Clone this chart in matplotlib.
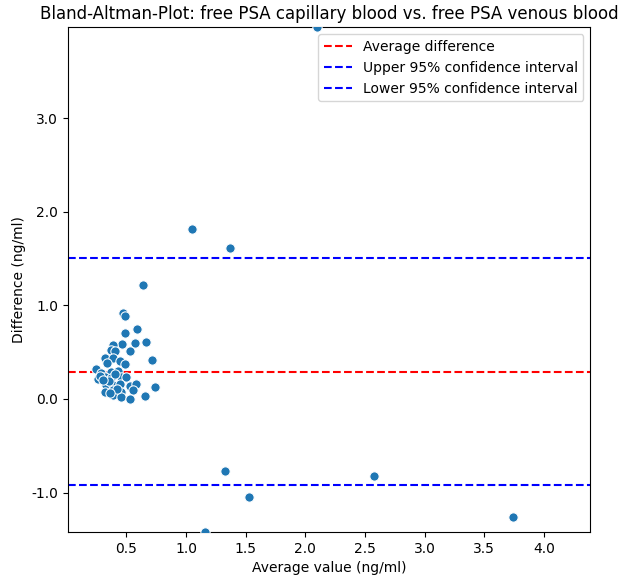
import matplotlib
matplotlib.use("Agg")
import matplotlib.pyplot as plt
from matplotlib.ticker import MultipleLocator, FormatStrFormatter
import numpy as np

# moyenne des deux mesures (ng/ml) et difference capillaire - veineux (ng/ml)
avg_value = [2.10, 1.046, 1.365, 0.635, 0.469, 0.490, 0.590, 0.484, 0.666, 0.573,
             0.464, 0.391, 0.526, 0.374, 0.408, 0.716, 0.324, 0.385, 0.442, 0.338,
             0.484, 0.246, 0.288, 0.372, 0.427, 0.259, 0.316, 0.372, 0.456, 0.498,
             0.330, 0.385, 0.442, 0.526, 0.576, 0.736, 0.316, 0.385, 0.456, 0.553,
             0.385, 0.456, 0.531, 0.652, 0.28, 0.35, 0.40, 0.42, 0.36, 0.30,
             1.33, 1.53, 1.16, 2.58, 3.74]
difference = [3.97, 1.82, 1.61, 1.22, 0.916, 0.887, 0.745, 0.702, 0.612, 0.595,
              0.588, 0.577, 0.513, 0.524, 0.513, 0.417, 0.435, 0.441, 0.406, 0.381,
              0.374, 0.317, 0.275, 0.292, 0.299, 0.210, 0.232, 0.221, 0.232, 0.232,
              0.150, 0.150, 0.157, 0.139, 0.157, 0.131, 0.078, 0.096, 0.078, 0.096,
              0.043, 0.025, -0.003, 0.032, 0.24, 0.19, 0.27, 0.11, 0.06, 0.20,
              -0.77, -1.05, -1.42, -0.82, -1.26]

mean_diff = 0.29
upper_ci = 1.51
lower_ci = -0.92

fig = plt.figure(figsize=(6.24, 5.8), dpi=100)
ax = fig.add_axes([0.109, 0.083, 0.837, 0.870])

ax.scatter(avg_value, difference, s=45, color="#1f77b4", edgecolor="white", linewidth=0.75, zorder=3)
ax.axhline(mean_diff, color="red", linestyle="--", linewidth=1.5, label="Average difference")
ax.axhline(upper_ci, color="blue", linestyle="--", linewidth=1.5, label="Upper 95% confidence interval")
ax.axhline(lower_ci, color="blue", linestyle="--", linewidth=1.5, label="Lower 95% confidence interval")

ax.set_xlim(0.01, 4.39)
ax.set_ylim(min(difference), max(difference))
ax.yaxis.set_major_locator(MultipleLocator(1.0))
ax.yaxis.set_major_formatter(FormatStrFormatter("%.1f"))

ax.set_title("Bland-Altman-Plot: free PSA capillary blood vs. free PSA venous blood", fontsize=12)
ax.set_xlabel("Average value (ng/ml)")
ax.set_ylabel("Difference (ng/ml)")
ax.legend(loc="upper right")

fig.savefig("out.png", dpi=100)
